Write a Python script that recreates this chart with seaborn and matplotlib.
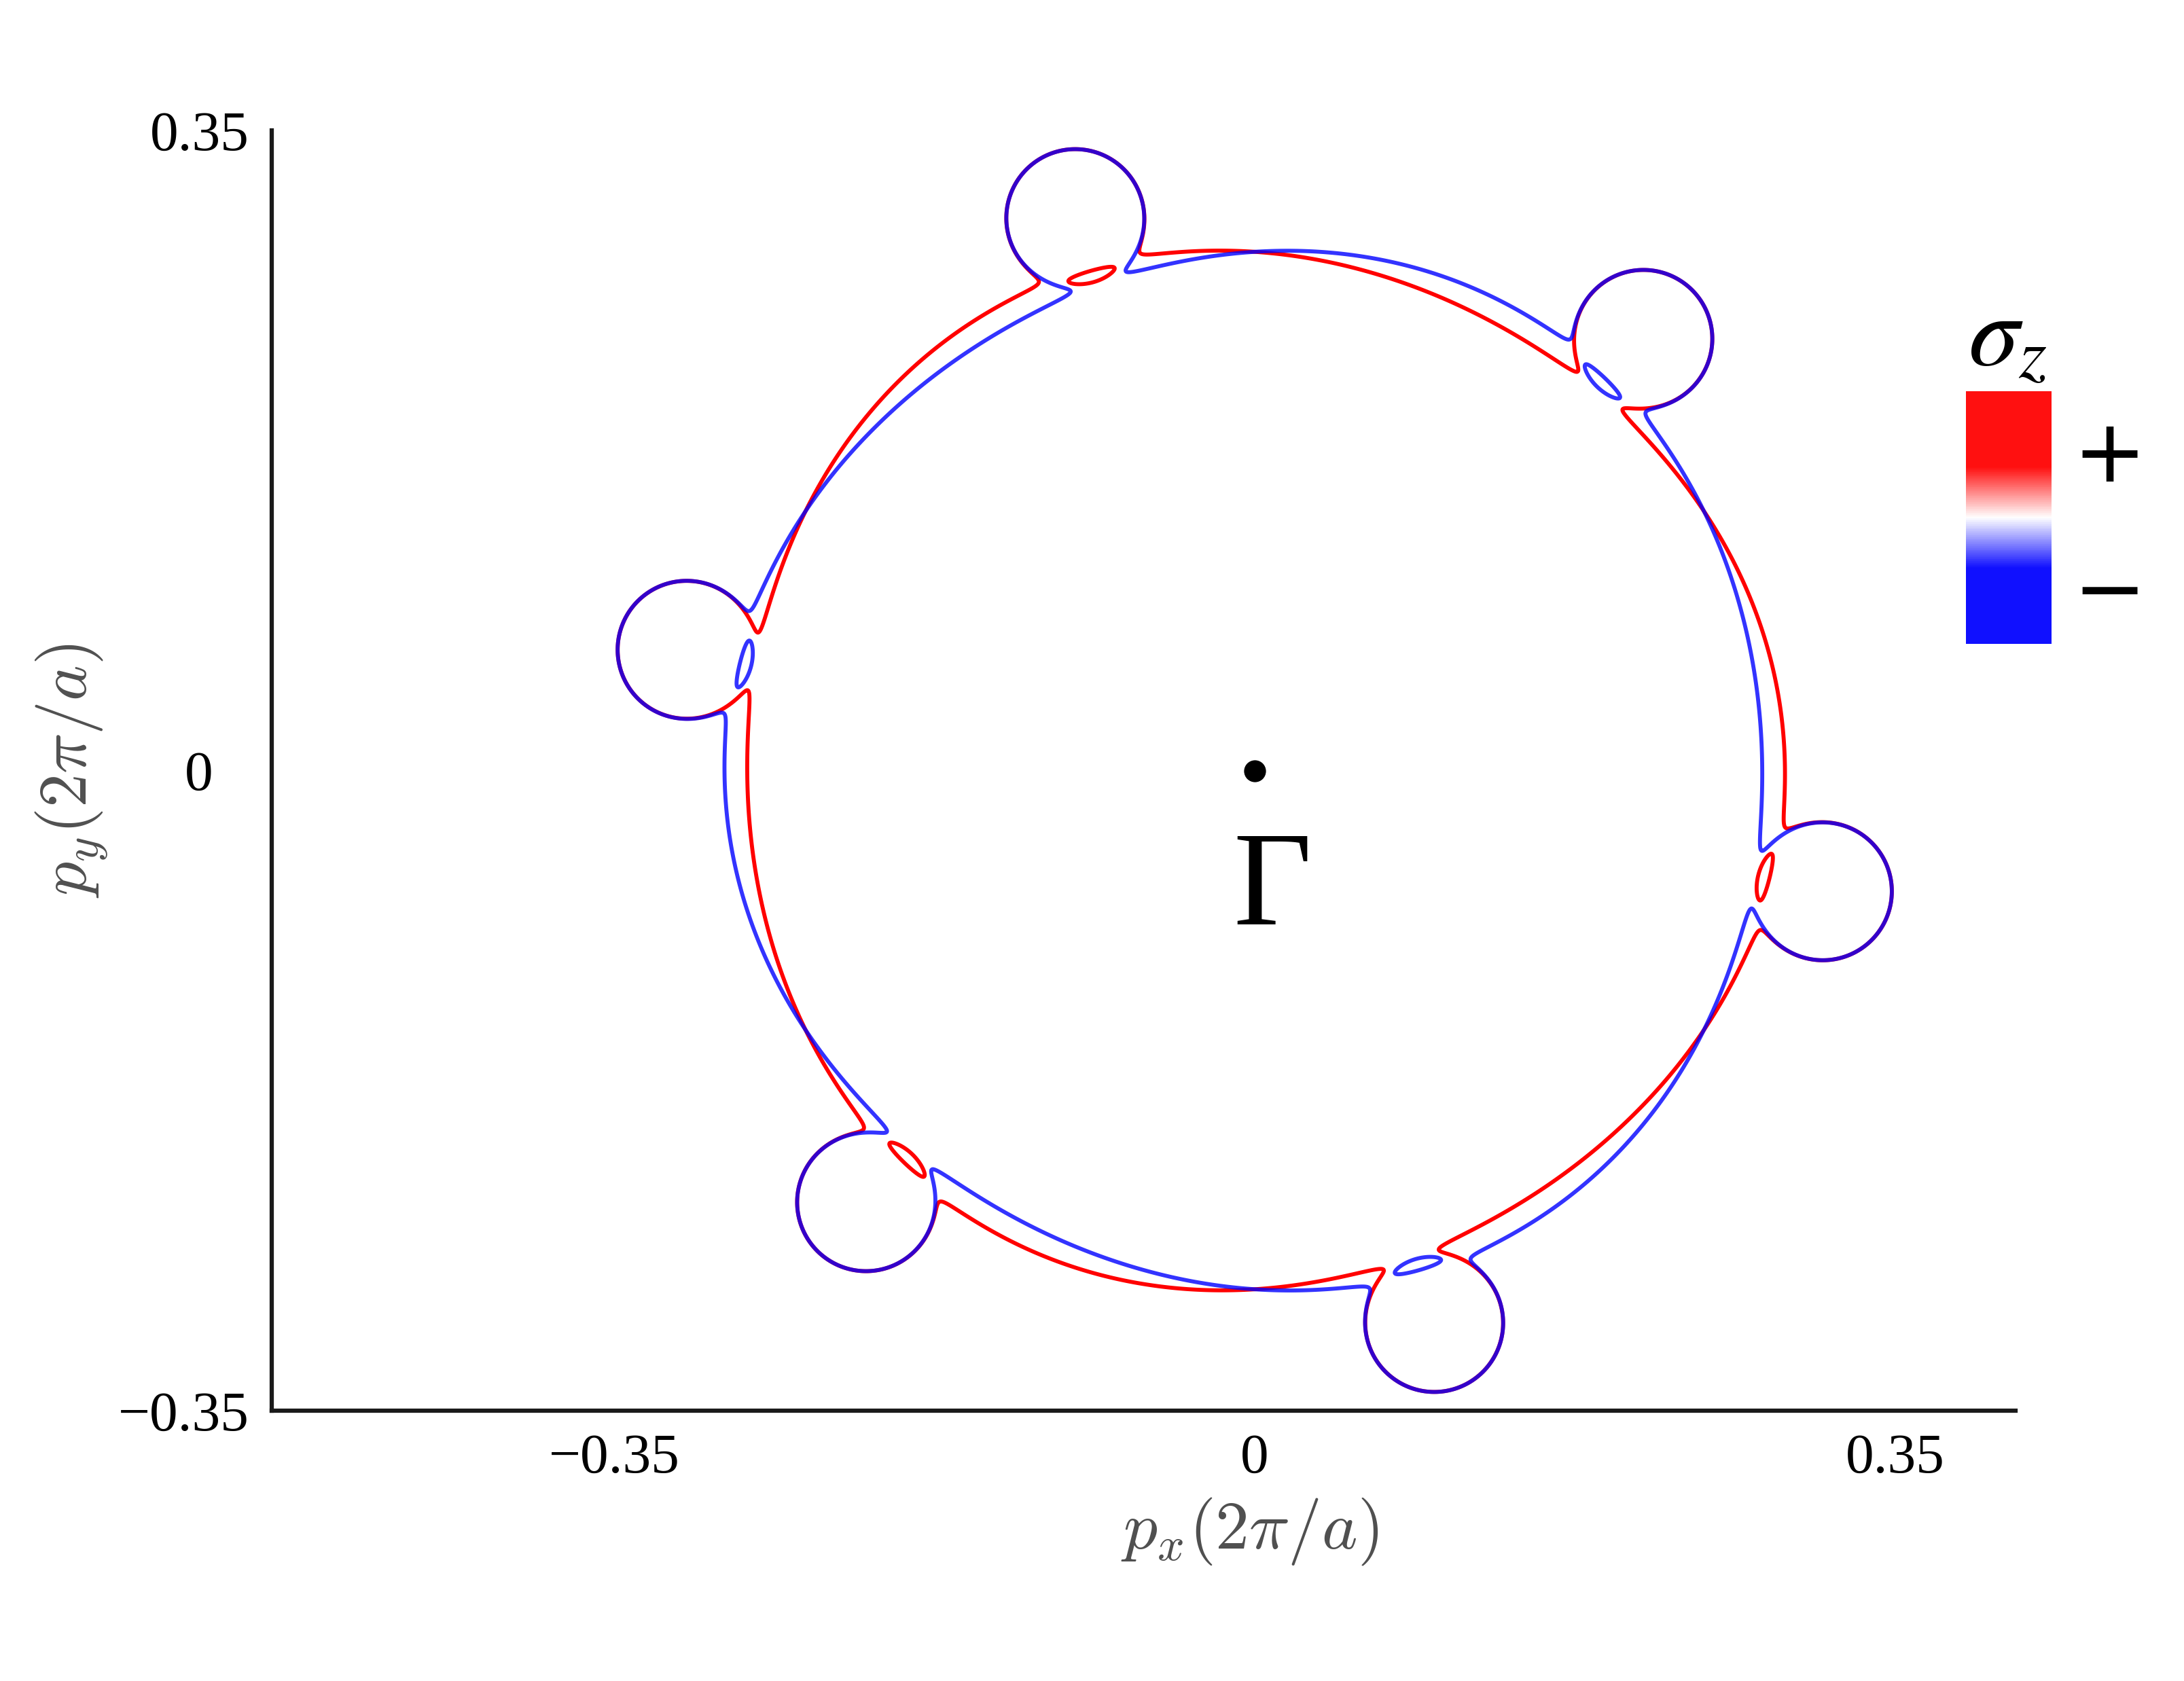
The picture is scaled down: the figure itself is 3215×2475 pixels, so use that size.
import numpy as np
import matplotlib.pyplot as plt
import seaborn as sns
from matplotlib.colors import LinearSegmentedColormap
from matplotlib.transforms import ScaledTranslation

# small hole pockets around the big Gamma circle
pocket_angles_deg = [108, 48, -12, -72, -132, 168]
pocket_distance = 0.3177
pocket_radius = 0.0375

# big Fermi circle, spin split as cos(3 theta), hybridised with the pockets
fermi_radius = 0.2835
spin_splitting = 0.0062
hybridization = 0.0027

spin_signs = [1, -1]
spin_colors = ['#ff0000', '#0000ff']
spin_alpha = [1.0, 0.8]
spin_labels = ['+', '\u2212']

tick_values = [-0.35, 0, 0.35]
tick_labels = ['\u22120.35', '0', '0.35']
x_limits = (-0.5375, 0.416)
y_limits = (-0.35, 0.35)

sns.set_theme(style='white')
plt.rcParams['font.family'] = ['Liberation Serif', 'DejaVu Serif']
plt.rcParams['axes.unicode_minus'] = True
plt.rcParams['text.color'] = 'black'

W, H, DPI = 3215, 2475, 300
fig = plt.figure(figsize=(W / DPI, H / DPI), dpi=DPI)
ax = fig.add_axes([400 / W, 1 - 2077 / H, 2567 / W, 1885 / H])

# momentum grid
k = np.linspace(-0.37, 0.37, 1851)
kx, ky = np.meshgrid(k, k)
kr = np.hypot(kx, ky)
theta = np.arctan2(ky, kx)

ang = np.deg2rad(pocket_angles_deg)
px = pocket_distance * np.cos(ang)
py = pocket_distance * np.sin(ang)
e_pocket = np.min([np.hypot(kx - a, ky - b) for a, b in zip(px, py)],
                  axis=0) - pocket_radius

for s, col, al, z in zip(spin_signs, spin_colors, spin_alpha, [2, 3]):
    e_big = kr - (fermi_radius + s * spin_splitting * np.cos(3 * theta))
    ax.contour(kx, ky, e_big * e_pocket - hybridization ** 2, levels=[0],
               colors=[col], alpha=al, linewidths=1.4, zorder=z)

# Gamma point
sns.scatterplot(x=[0], y=[0], color='black', s=60, linewidth=0,
                ax=ax, zorder=5, legend=False)
ax.text(0.0097, -0.084, '\u0393', fontsize=48, ha='center', va='baseline',
        color='black', family=['Liberation Serif', 'DejaVu Serif'], zorder=5)

ax.set_xlim(*x_limits)
ax.set_ylim(*y_limits)
ax.set_xticks(tick_values, labels=tick_labels)
ax.set_yticks(tick_values, labels=tick_labels)
ax.tick_params(direction='in', length=6.5, width=1.0, pad=8,
               labelsize=20, colors='black')
sns.despine(ax=ax)
for side in ['left', 'bottom']:
    ax.spines[side].set_linewidth(1.5)
    ax.spines[side].set_color('#1a1a1a')

# y label "0" sits centred under "0.35"
lab0 = ax.get_yticklabels()[1]
lab0.set_ha('center')
lab0.set_transform(lab0.get_transform() +
                   ScaledTranslation(-74 / DPI, 0, fig.dpi_scale_trans))

ax.set_xlabel(r'$p_x(2\pi/a)$', fontsize=24, color='#505050',
              math_fontfamily='cm')
ax.set_ylabel(r'$p_y(2\pi/a)$', fontsize=24, color='#505050',
              math_fontfamily='cm')
ax.xaxis.set_label_coords(0.561, -0.0663)
ax.yaxis.set_label_coords(-0.093, 0.5)

# sigma_z colour key
cax = fig.add_axes([2894 / W, 1 - 948 / H, 126 / W, 372 / H])
key_cmap = LinearSegmentedColormap.from_list(
    'sz', [(0, '#1010ff'), (0.3, '#1010ff'), (0.5, 'white'),
           (0.7, '#ff1010'), (1, '#ff1010')])
sns.heatmap(np.linspace(1, -1, 256)[:, None], ax=cax, cmap=key_cmap,
            vmin=-1, vmax=1, cbar=False, xticklabels=False,
            yticklabels=False)
fig.text(2897 / W, 1 - 537 / H, r'$\sigma_z$', fontsize=36, color='black',
         math_fontfamily='stix', ha='left', va='baseline')
for lab, yb in zip(spin_labels, [709, 910]):
    fig.text(3105 / W, 1 - yb / H, lab, fontsize=31, ha='center',
             va='baseline', color='black', family='DejaVu Sans')

fig.savefig('out.png', dpi=DPI)
